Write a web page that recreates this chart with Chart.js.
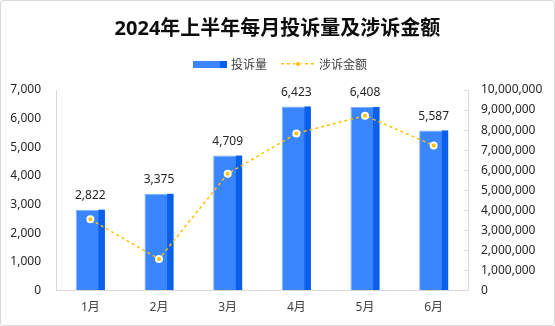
<!DOCTYPE html>
<html>
<head>
<meta charset="utf-8">
<script src="https://cdn.jsdelivr.net/npm/chart.js@4/dist/chart.umd.min.js"></script>
<style>
  body { margin: 0; background: #fff; }
  #wrap { position: relative; width: 555px; height: 326px; font-family: "Noto Sans", "Noto Sans CJK SC", sans-serif; }
  #frame { position: absolute; left: 0; top: 0; width: 555px; height: 326px; box-sizing: border-box;
           border: 1px solid #d9d9d9; border-radius: 3px; pointer-events: none; }
  #title { position: absolute; left: 0; top: 14px; width: 555px; text-align: center;
           font-size: 20px; line-height: 28px; font-weight: bold; color: #0d0d0d; }
  #legend { position: absolute; left: 193px; top: 56px; height: 16px; display: flex; align-items: center;
            font-size: 12px; color: #404040; }
  .bar-key { width: 34px; height: 7px; margin-right: 4px;
             background: linear-gradient(to right, #3a86ff 0, #3a86ff 79%, #0b5fea 79%); }
  .line-key { position: relative; width: 34px; height: 8px; margin-left: 14px; margin-right: 4px;
              background: repeating-linear-gradient(to right, #ffc000 0 3px, transparent 3px 6px) 0 3px / 34px 1.5px no-repeat; }
  .line-key::after { content: ""; position: absolute; left: 14px; top: 1px; width: 4px; height: 4px;
                     border-radius: 50%; background: #ffc000; border: 1px solid #fff; }
  #chart-box { position: absolute; left: 0; top: 0; width: 555px; height: 326px; }
</style>
</head>
<body>
<div id="wrap">
  <div id="chart-box"><canvas id="chart"></canvas></div>
  <div id="title">2024年上半年每月投诉量及涉诉金额</div>
  <div id="legend">
    <span class="bar-key"></span><span>投诉量</span>
    <span class="line-key"></span><span>涉诉金额</span>
  </div>
  <div id="frame"></div>
</div>
<script>
// =====================================================
// DATA
// =====================================================

const months     = ['1月', '2月', '3月', '4月', '5月', '6月'];
const complaints = [2822, 3375, 4709, 6423, 6408, 5587];           // 投诉量 (left axis)
const amounts    = [3550000, 1570000, 5820000, 7830000, 8720000, 7230000]; // 涉诉金额 (right axis)

const leftTicks  = [0, 1000, 2000, 3000, 4000, 5000, 6000, 7000];
const rightTicks = [0, 1000000, 2000000, 3000000, 4000000, 5000000, 6000000, 7000000, 8000000, 9000000, 10000000];

const fontFamily = '"Noto Sans", "Noto Sans CJK SC", sans-serif';
const fmt = v => Number(v).toLocaleString('en-US');

// darker strip on the right side of each bar (gives the 3D look)
const barDepth = {
  id: 'barDepth',
  afterDatasetDraw(chart, args) {
    if (args.index !== 0) return;
    const ctx = chart.ctx;
    ctx.save();
    ctx.fillStyle = '#0b5fea';
    args.meta.data.forEach(bar => {
      const { x, y, base, width } = bar.getProps(['x', 'y', 'base', 'width'], true);
      const w = width * 0.22;
      ctx.fillRect(x + width / 2 - w, y, w, base - y);
    });
    ctx.restore();
  }
};

// value labels above the bars
const barLabels = {
  id: 'barLabels',
  afterDatasetsDraw(chart) {
    const ctx = chart.ctx;
    const meta = chart.getDatasetMeta(0);
    ctx.save();
    ctx.font = '12px ' + fontFamily;
    ctx.fillStyle = '#262626';
    ctx.textAlign = 'center';
    ctx.textBaseline = 'middle';
    meta.data.forEach((bar, i) => {
      ctx.fillText(fmt(complaints[i]), bar.x, bar.y - 14);
    });
    ctx.restore();
  }
};

new Chart(document.getElementById('chart'), {
  data: {
    labels: months,
    datasets: [
      {
        type: 'bar',
        label: '投诉量',
        data: complaints,
        yAxisID: 'y',
        order: 1,
        backgroundColor: '#3a86ff',
        borderColor: '#7db0ff',
        borderWidth: { top: 1, left: 1, right: 0, bottom: 0 },
        categoryPercentage: 1,
        barPercentage: 0.423
      },
      {
        type: 'line',
        label: '涉诉金额',
        data: amounts,
        yAxisID: 'y1',
        order: 0,
        borderColor: '#ffc000',
        borderWidth: 1.5,
        borderDash: [3, 3],
        pointRadius: 3,
        pointBorderWidth: 2,
        pointBackgroundColor: '#ffc000',
        pointBorderColor: '#ffffff',
        tension: 0
      }
    ]
  },
  options: {
    responsive: true,
    maintainAspectRatio: false,
    devicePixelRatio: 1,
    animation: false,
    layout: { padding: { top: 90, left: 0, right: 0, bottom: 0 } },
    plugins: {
      legend: { display: false },
      title: { display: false },
      tooltip: { enabled: false }
    },
    scales: {
      x: {
        grid: { drawOnChartArea: false, drawTicks: false },
        border: { display: true, color: '#d9d9d9' },
        ticks: { color: '#404040', font: { family: fontFamily, size: 12 }, padding: 10 },
        afterFit: s => { s.height = 35.5; }
      },
      y: {
        position: 'left',
        min: 0,
        max: 7000,
        grid: { drawOnChartArea: false, drawTicks: false },
        border: { display: true, color: '#d9d9d9' },
        afterBuildTicks: s => { s.ticks = leftTicks.map(v => ({ value: v })); },
        ticks: { color: '#262626', font: { family: fontFamily, size: 12 }, padding: 15, callback: v => fmt(v) },
        afterFit: s => { s.width = 56; }
      },
      y1: {
        position: 'right',
        min: 0,
        max: 10000000,
        grid: { drawOnChartArea: false, drawTicks: true, tickLength: -4, color: '#d9d9d9' },
        border: { display: true, color: '#d9d9d9' },
        afterBuildTicks: s => { s.ticks = rightTicks.map(v => ({ value: v })); },
        ticks: { color: '#262626', font: { family: fontFamily, size: 12 }, padding: 17, callback: v => fmt(v) },
        afterFit: s => { s.width = 87; }
      }
    }
  },
  plugins: [barDepth, barLabels]
});
</script>
</body>
</html>
